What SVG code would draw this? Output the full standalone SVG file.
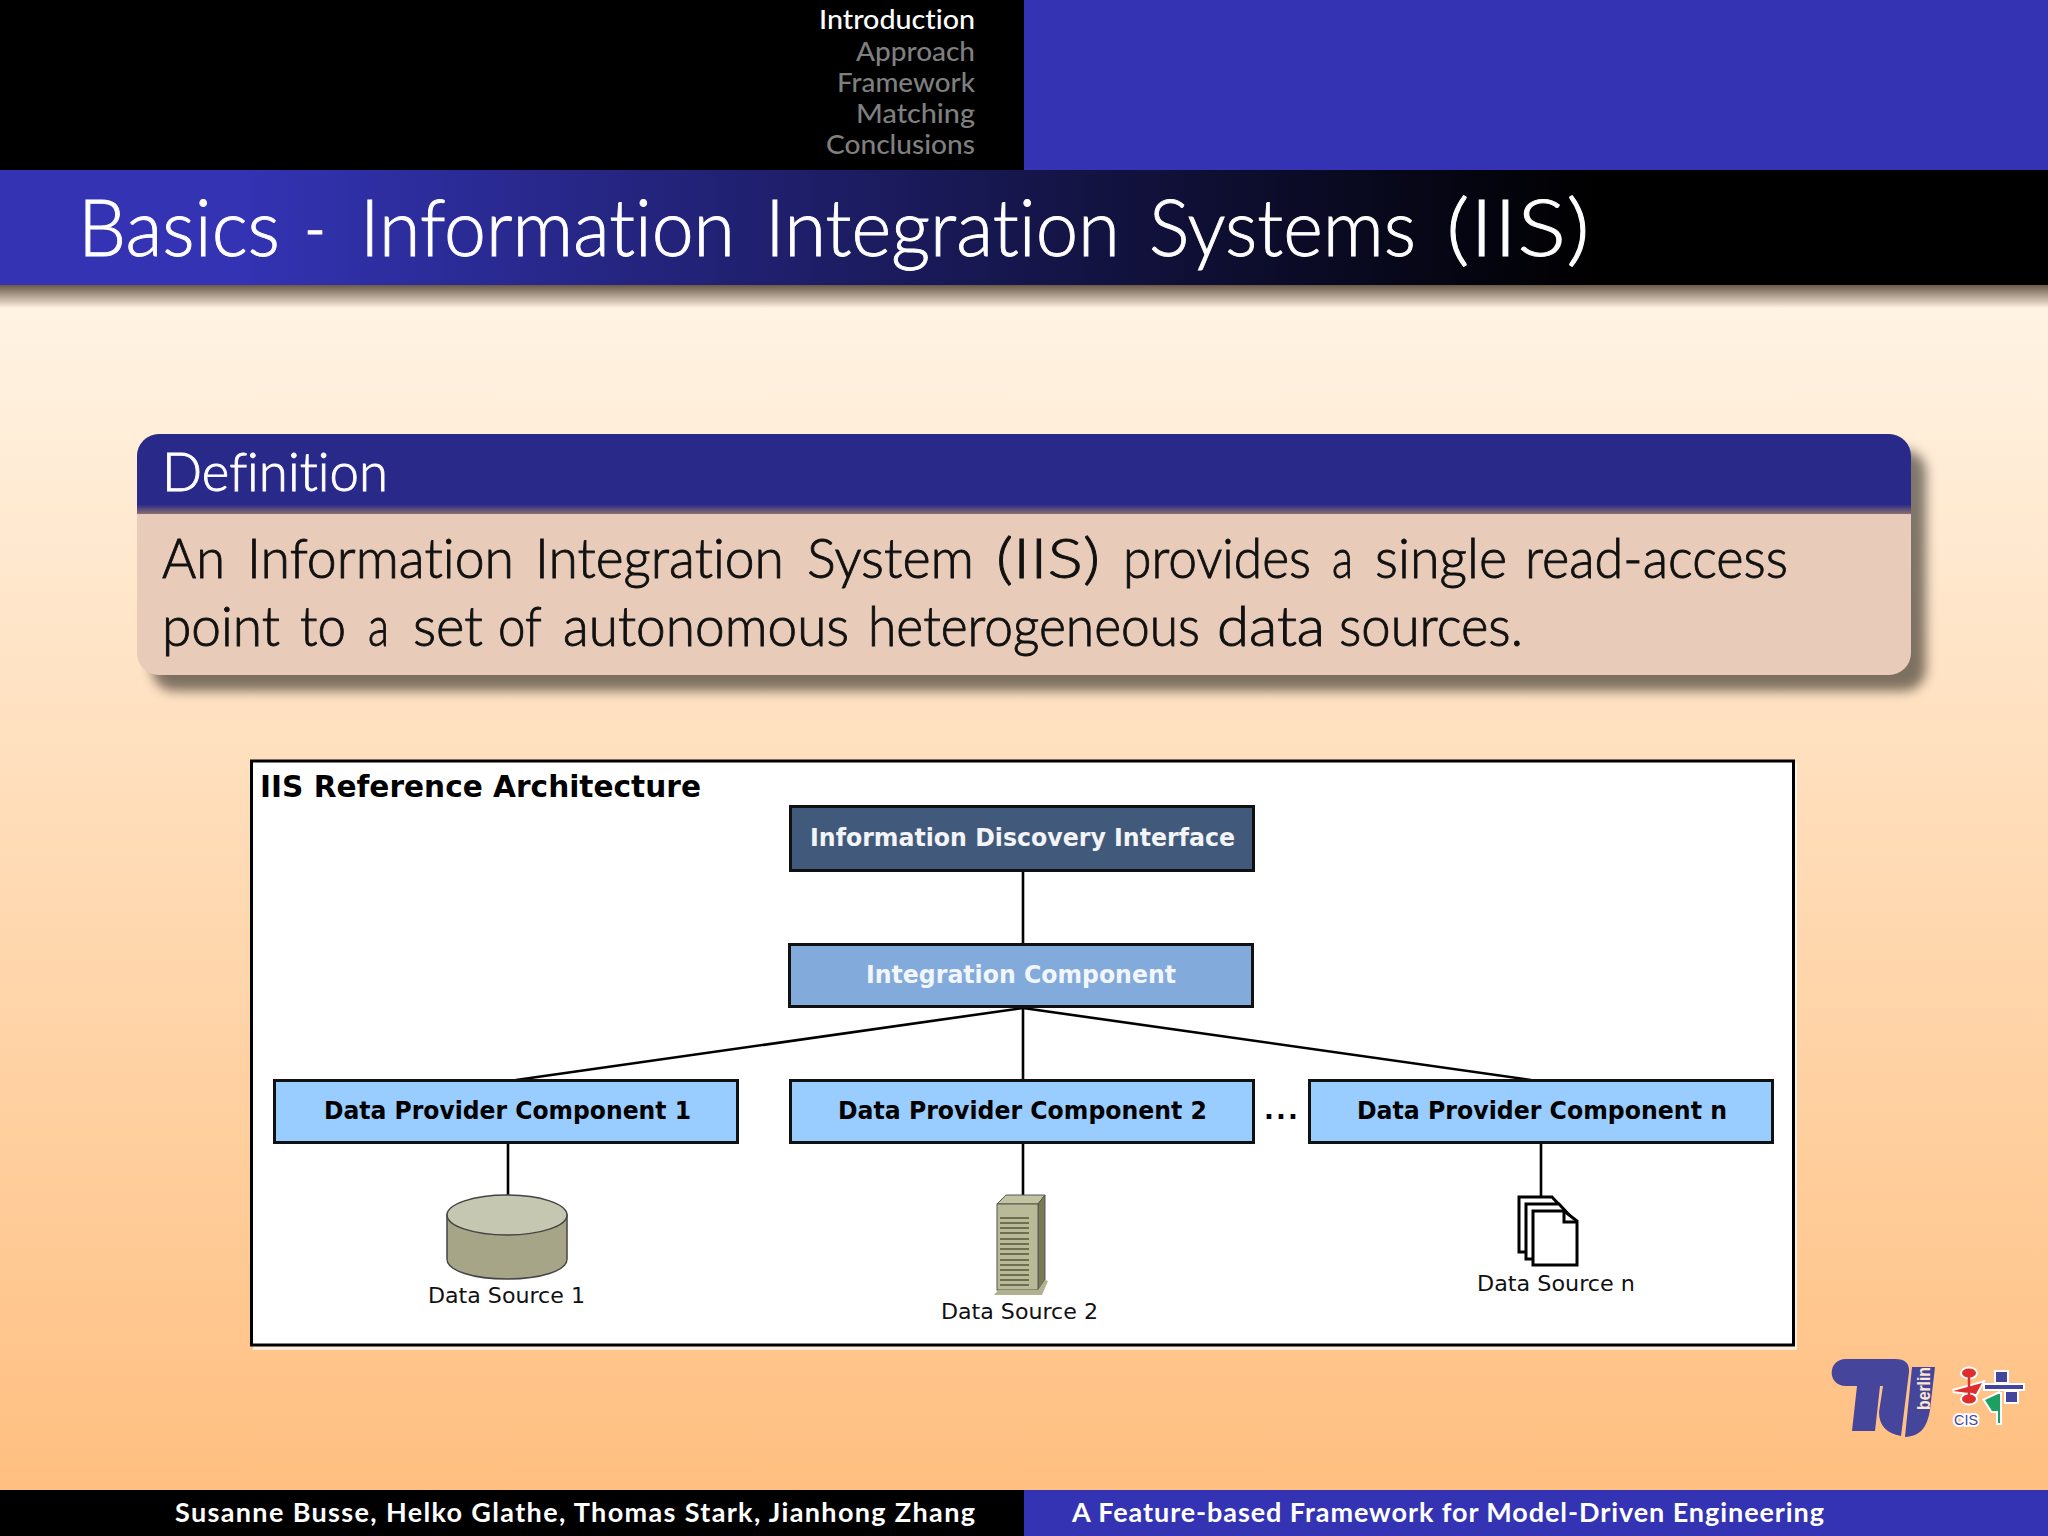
<svg xmlns="http://www.w3.org/2000/svg" width="2048" height="1536" viewBox="0 0 2048 1536">
<defs>
<linearGradient id="bg" gradientUnits="userSpaceOnUse" x1="0" y1="308" x2="0" y2="1490"><stop offset="0" stop-color="#fff3e3"/><stop offset="1" stop-color="#ffbf80"/></linearGradient>
<linearGradient id="tb" x1="0" y1="0" x2="1" y2="0"><stop offset="0" stop-color="#3333b3"/><stop offset="0.12" stop-color="#3333b3"/><stop offset="0.78" stop-color="#000"/><stop offset="1" stop-color="#000"/></linearGradient>
<linearGradient id="sh" x1="0" y1="0" x2="0" y2="1"><stop offset="0" stop-color="#6b5a48"/><stop offset="1" stop-color="#fff0df"/></linearGradient>
<linearGradient id="hd" x1="0" y1="0" x2="0" y2="1"><stop offset="0" stop-color="#29298a"/><stop offset="0.88" stop-color="#29298a"/><stop offset="1" stop-color="#8a7070"/></linearGradient>
<filter id="blur" x="-5%" y="-15%" width="110%" height="130%"><feGaussianBlur stdDeviation="6"/></filter>
<clipPath id="defclip"><rect x="137" y="434" width="1774" height="241" rx="22"/></clipPath>
<style>
.cm{font-family:"Lato","Open Sans","Liberation Sans",sans-serif;font-variant-ligatures:none}
.dv{font-family:"DejaVu Sans",sans-serif}
.nav{font-size:27px;text-anchor:end;fill:#7f7f7f;font-weight:500}
.lite{font-weight:300;stroke-width:0.9px}
.box{stroke:#111;stroke-width:3}
.lbl{font-size:25px;font-weight:700}
.src{font-size:21px;fill:#111}
.cn{stroke:#000;stroke-width:2.6;fill:none}
.pg{fill:#fff;stroke:#000;stroke-width:3}
.logo{fill:#45459b}
.hl{stroke:#fff;stroke-width:4;paint-order:stroke}
</style>
</defs>
<rect id="background" width="2048" height="1536" fill="url(#bg)"/>
<rect x="0" y="285" width="2048" height="23" fill="url(#sh)"/>
<g id="header">
<rect width="1024" height="170" fill="#000"/>
<rect x="1024" width="1024" height="170" fill="#3333b3"/>
<text class="cm nav" x="975" y="29" style="fill:#fff" textLength="156" lengthAdjust="spacingAndGlyphs">Introduction</text>
<text class="cm nav" x="975" y="61" textLength="119" lengthAdjust="spacingAndGlyphs">Approach</text>
<text class="cm nav" x="975" y="92" textLength="138" lengthAdjust="spacingAndGlyphs">Framework</text>
<text class="cm nav" x="975" y="123" textLength="119" lengthAdjust="spacingAndGlyphs">Matching</text>
<text class="cm nav" x="975" y="154" textLength="149" lengthAdjust="spacingAndGlyphs">Conclusions</text>
<rect y="170" width="2048" height="115" fill="url(#tb)"/>
<text class="cm lite" y="256" font-size="78" fill="#fff" stroke="#fff" xml:space="preserve"><tspan x="78" textLength="202" lengthAdjust="spacingAndGlyphs">Basics</tspan> <tspan x="304" textLength="22" lengthAdjust="spacingAndGlyphs">-</tspan> <tspan x="360" textLength="375" lengthAdjust="spacingAndGlyphs">Information</tspan> <tspan x="765" textLength="355" lengthAdjust="spacingAndGlyphs">Integration</tspan> <tspan x="1149" textLength="267" lengthAdjust="spacingAndGlyphs">Systems</tspan> <tspan x="1446" textLength="144" lengthAdjust="spacingAndGlyphs">(IIS)</tspan></text>
</g>
<g id="definition">
<rect x="152" y="450" width="1774" height="241" rx="22" fill="#000" opacity="0.5" filter="url(#blur)"/>
<rect x="137" y="434" width="1774" height="241" rx="22" fill="#e8ccb9"/>
<rect x="137" y="434" width="1774" height="80" fill="url(#hd)" clip-path="url(#defclip)"/>
<text class="cm lite" x="162" y="491" font-size="54" fill="#fff" stroke="#fff" textLength="226" lengthAdjust="spacingAndGlyphs">Definition</text>
<text class="cm lite" y="578" font-size="56" fill="#111" stroke="#111" xml:space="preserve"><tspan x="162" textLength="63" lengthAdjust="spacingAndGlyphs">An</tspan> <tspan x="247" textLength="267" lengthAdjust="spacingAndGlyphs">Information</tspan> <tspan x="535" textLength="249" lengthAdjust="spacingAndGlyphs">Integration</tspan> <tspan x="807" textLength="167" lengthAdjust="spacingAndGlyphs">System</tspan> <tspan x="996" textLength="104" lengthAdjust="spacingAndGlyphs">(IIS)</tspan> <tspan x="1123" textLength="188" lengthAdjust="spacingAndGlyphs">provides</tspan> <tspan x="1332" textLength="21" lengthAdjust="spacingAndGlyphs">a</tspan> <tspan x="1375" textLength="132" lengthAdjust="spacingAndGlyphs">single</tspan> <tspan x="1525" textLength="263" lengthAdjust="spacingAndGlyphs">read-access</tspan></text>
<text class="cm lite" y="646" font-size="56" fill="#111" stroke="#111" xml:space="preserve"><tspan x="162" textLength="118" lengthAdjust="spacingAndGlyphs">point</tspan> <tspan x="300" textLength="46" lengthAdjust="spacingAndGlyphs">to</tspan> <tspan x="368" textLength="21" lengthAdjust="spacingAndGlyphs">a</tspan> <tspan x="413" textLength="70" lengthAdjust="spacingAndGlyphs">set</tspan> <tspan x="498" textLength="43" lengthAdjust="spacingAndGlyphs">of</tspan> <tspan x="563" textLength="286" lengthAdjust="spacingAndGlyphs">autonomous</tspan> <tspan x="868" textLength="332" lengthAdjust="spacingAndGlyphs">heterogeneous</tspan> <tspan x="1217" textLength="108" lengthAdjust="spacingAndGlyphs">data</tspan> <tspan x="1339" textLength="184" lengthAdjust="spacingAndGlyphs">sources.</tspan></text>
</g>
<g id="architecture-frame">
<rect x="253" y="763" width="1544" height="587" fill="#fff" opacity="0.7"/>
<rect x="251.500" y="761" width="1542" height="584" fill="#fff" stroke="#000" stroke-width="3"/>
<text class="dv" x="260" y="797" font-size="30" font-weight="700" fill="#000" textLength="441" lengthAdjust="spacingAndGlyphs">IIS Reference Architecture</text>
</g>
<g id="connectors">
<path class="cn" d="M1023 871V944M1023 1007V1080M1023 1008L516 1080M1023 1008L1531 1080M508 1143V1195M1023 1143V1195M1541 1143V1197"/>
</g>
<g id="information-discovery-interface">
<rect class="box" x="790.500" y="806.500" width="463" height="64" fill="#41597a"/>
<text class="dv lbl" x="810" y="846" fill="#f2f4f7" textLength="425" lengthAdjust="spacingAndGlyphs">Information Discovery Interface</text>
</g>
<g id="integration-component">
<rect class="box" x="789.500" y="944.500" width="463" height="62" fill="#82aadb"/>
<text class="dv lbl" x="866" y="983" fill="#f2f6fb" textLength="310" lengthAdjust="spacingAndGlyphs">Integration Component</text>
</g>
<g id="data-provider-1">
<rect class="box" x="274.500" y="1080.500" width="463" height="62" fill="#99ccff"/>
<text class="dv lbl" x="324" y="1119" fill="#000" textLength="367" lengthAdjust="spacingAndGlyphs">Data Provider Component 1</text>
</g>
<g id="data-provider-2">
<rect class="box" x="790.500" y="1080.500" width="463" height="62" fill="#99ccff"/>
<text class="dv lbl" x="838" y="1119" fill="#000" textLength="369" lengthAdjust="spacingAndGlyphs">Data Provider Component 2</text>
</g>
<text id="ellipsis" class="dv" x="1264" y="1119" font-size="26" font-weight="700" fill="#000" textLength="34">...</text>
<g id="data-provider-n">
<rect class="box" x="1309.500" y="1080.500" width="463" height="62" fill="#99ccff"/>
<text class="dv lbl" x="1357" y="1119" fill="#000" textLength="370" lengthAdjust="spacingAndGlyphs">Data Provider Component n</text>
</g>
<g id="data-source-1">
<path d="M447 1215V1259C447 1271 474 1279 507 1279S567 1271 567 1259V1215Z" fill="#a7a587" stroke="#444" stroke-width="1.500"/>
<ellipse cx="507" cy="1215" rx="60" ry="20" fill="#c6c7b1" stroke="#444" stroke-width="1.500"/>
<text class="dv src" x="428" y="1303" textLength="157" lengthAdjust="spacingAndGlyphs">Data Source 1</text>
</g>
<g id="data-source-2">
<path d="M997 1204L1006 1195H1045L1038 1204Z" fill="#c2c3a0" stroke="#555" stroke-width="1"/>
<path d="M1038 1204L1045 1195V1280L1038 1290Z" fill="#777a52" stroke="#555" stroke-width="1"/>
<rect x="997" y="1204" width="41" height="86" fill="#b9bb98" stroke="#555" stroke-width="1"/>
<path d="M994 1295L998 1290H1038L1045 1280L1048 1281L1042 1295Z" fill="#b0b28f"/>
<path d="M1000 1218H1029M1000 1223H1029M1000 1228H1029M1000 1233H1029M1000 1239H1029M1000 1244H1029M1000 1249H1029M1000 1254H1029M1000 1260H1029M1000 1265H1029M1000 1270H1029M1000 1275H1029M1000 1280H1029M1000 1285H1029" stroke="#55573a" stroke-width="1.500"/>
<text class="dv src" x="941" y="1319" textLength="157" lengthAdjust="spacingAndGlyphs">Data Source 2</text>
</g>
<g id="data-source-n">
<path class="pg" d="M1519 1197H1552L1565 1211V1252H1519Z"/>
<path class="pg" d="M1526 1204H1559L1572 1218V1259H1526Z"/>
<path class="pg" d="M1533 1211H1564L1577 1221V1265H1533Z"/>
<path d="M1564 1211V1222H1577" fill="none" stroke="#000" stroke-width="3"/>
<text class="dv src" x="1477" y="1291" textLength="158" lengthAdjust="spacingAndGlyphs">Data Source n</text>
</g>
<g id="logo-tu">
<path class="logo" d="M1846 1359H1895Q1910 1359 1909 1372L1901 1436Q1879 1432 1879 1412L1883 1386H1880L1875 1431H1852L1857 1386H1846C1827 1386 1827 1359 1846 1359Z"/>
<path class="logo" d="M1912 1367H1935L1930 1410C1927 1428 1920 1436 1905 1437Z"/>
<text x="0" y="0" transform="translate(1930,1410) rotate(-90)" font-family="Liberation Sans,sans-serif" font-weight="700" font-size="19" fill="#ffe6d0" textLength="43" lengthAdjust="spacingAndGlyphs">berlin</text>
</g>
<g id="logo-cis">
<path class="hl" d="M1953 1391L1982 1383L1976 1394Z" fill="#dd2d2d"/>
<path class="hl" d="M1985 1385H2023V1389H1985Z" fill="#45459b"/>
<rect class="hl" x="1996" y="1372" width="11" height="10" fill="#45459b"/>
<rect class="hl" x="2006" y="1392" width="11" height="10" fill="#45459b"/>
<path class="hl" d="M1985 1400L1998 1394V1423H2000V1394H1998V1411H1992Z" fill="#1aa060"/>
<ellipse class="hl" cx="1969" cy="1373" rx="7" ry="4.500" fill="#dd2d2d"/>
<ellipse class="hl" cx="1969" cy="1399" rx="7" ry="4.500" fill="#dd2d2d"/>
<path d="M1969 1377V1395" stroke="#dd2d2d" stroke-width="2.500"/>
<text class="hl" x="1954" y="1425" font-family="Liberation Sans,sans-serif" font-size="15" fill="#45459b" textLength="24" lengthAdjust="spacingAndGlyphs">CIS</text>
</g>
<g id="footer">
<rect y="1490" width="1024" height="46" fill="#000"/>
<rect x="1024" y="1490" width="1024" height="46" fill="#3333b3"/>
<text class="cm" x="175" y="1522" font-size="27" font-weight="700" fill="#fff" textLength="800">Susanne Busse, Helko Glathe, Thomas Stark, Jianhong Zhang</text>
<text class="cm" x="1072" y="1522" font-size="27" font-weight="700" fill="#fff" textLength="752">A Feature-based Framework for Model-Driven Engineering</text>
</g>
</svg>
